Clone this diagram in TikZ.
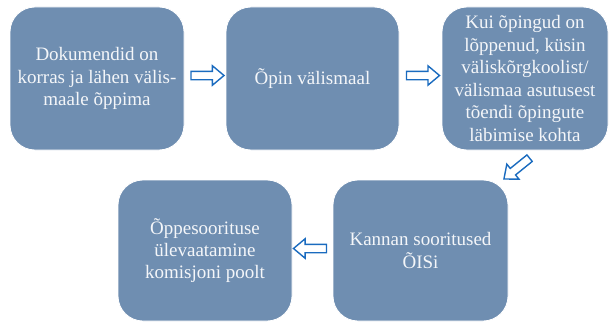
\documentclass[tikz,border=0pt]{standalone}
\usepackage{fontspec}
\setmainfont{Liberation Serif}
\usetikzlibrary{shapes.arrows,calc}
\definecolor{boxblue}{HTML}{6F8EB1}
\definecolor{arrowblue}{HTML}{1A6BBF}
\definecolor{paper}{HTML}{F4F6F9}

\begin{document}
\begin{tikzpicture}[x=1pt,y=1pt,
  stepbox/.style={fill=boxblue,draw=white,line width=0.8pt,rounded corners=25pt,
    text=paper,align=center,font=\fontsize{19}{22.4}\selectfont,
    minimum width=174pt,minimum height=143pt,inner sep=2pt},
  blockarrow/.style={single arrow,draw=arrowblue,fill=white,line width=1.4pt,
    minimum height=33pt,inner sep=3.5pt,single arrow head extend=5.5pt,
    single arrow tip angle=80,anchor=center}]
  \useasboundingbox (0,0) rectangle (609,322);
  % upper row
  \node[stepbox] (docs) at (97,243.5)
    {Dokumendid on\\korras ja lähen välis-\\maale õppima};
  \node[stepbox,minimum width=173pt] (abroad) at (312.5,243.5)
    {Õpin välismaal};
  \node[stepbox,minimum width=166pt] (proof) at (525,243.5)
    {Kui õpingud on\\lõppenud, küsin\\väliskõrgkoolist/\\välismaa asutusest\\tõendi õpingute\\läbimise kohta};
  % lower row
  \node[stepbox,minimum width=175pt,minimum height=141pt] (ois) at (420.5,71.5)
    {Kannan sooritused\\ÕISi};
  \node[stepbox,minimum height=141pt] (review) at (205,71.5)
    {Õppesoorituse\\ülevaatamine\\komisjoni poolt};
  % block arrows between the boxes
  \node[blockarrow] (a1) at ($(docs.east)!0.5!(abroad.west)+(0,3)$) {};
  \node[blockarrow] (a2) at ($(abroad.east)!0.5!(proof.west)+(0,3)$) {};
  \node[blockarrow,rotate=219] (a3) at ($(proof.south)!0.5!(ois.north east)+(2,-2)$) {};
  \node[blockarrow,rotate=180] (a4) at ($(ois.west)!0.5!(review.east)+(0,2)$) {};
\end{tikzpicture}
\end{document}
